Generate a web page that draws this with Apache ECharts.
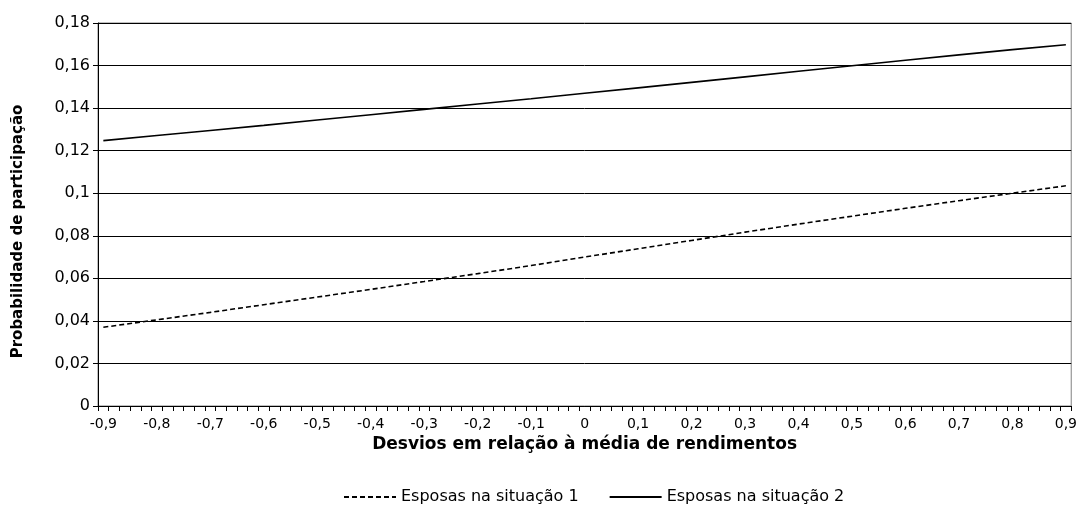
<!DOCTYPE html>
<html>
<head>
<meta charset="utf-8">
<script src="https://cdn.jsdelivr.net/npm/echarts@6/dist/echarts.min.js"></script>
<style>html,body{margin:0;padding:0;background:#fff}#c{width:1080px;height:520px}</style>
</head>
<body>
<div id="c"></div>
<script>
// Labelled x positions (every 0.1); each label interval holds 5 sub-categories (0.02 steps)
const xLabels = ['-0,9','-0,8','-0,7','-0,6','-0,5','-0,4','-0,3','-0,2','-0,1','0','0,1','0,2','0,3','0,4','0,5','0,6','0,7','0,8','0,9'];
const subSteps = 5;
const yTicks = ['0','0,02','0,04','0,06','0,08','0,1','0,12','0,14','0,16','0,18'];
const situacao1 = [0.0370,0.0405,0.0440,0.0476,0.0512,0.0548,0.0585,0.0622,0.0660,0.0700,0.0739,0.0778,0.0817,0.0855,0.0892,0.0929,0.0965,0.1000,0.1035];
const situacao2 = [0.1247,0.1271,0.1295,0.1319,0.1344,0.1369,0.1394,0.1419,0.1444,0.1470,0.1495,0.1521,0.1547,0.1573,0.1599,0.1625,0.1650,0.1675,0.1698];
const seriesNames = ['Esposas na situação 1','Esposas na situação 2'];

// Build full category list (labelled point followed by blank sub-steps)
const categories = [];
xLabels.forEach((l, i) => {
  categories.push(l);
  if (i < xLabels.length - 1) for (let k = 1; k < subSteps; k++) categories.push(l + '#' + k);
});
function spread(vals) {
  const out = new Array(categories.length).fill(null);
  vals.forEach((v, i) => { out[i * subSteps] = v; });
  return out;
}

const chart = echarts.init(document.getElementById('c'), null, {renderer: 'canvas'});
const font = 'DejaVu Sans, Liberation Sans, sans-serif';
chart.setOption({
  animation: false,
  textStyle: {fontFamily: font},
  grid: {left: 98, right: 7, top: 23, bottom: 114, show: true, borderColor: '#808080', borderWidth: 1, backgroundColor: 'transparent'},
  legend: {
    top: 489, left: 343, padding: 0, itemWidth: 52, itemHeight: 10, itemGap: 30,
    textStyle: {fontFamily: font, fontSize: 16, color: '#000'},
    itemStyle: {opacity: 0},
    data: seriesNames
  },
  xAxis: {
    type: 'category', data: categories, boundaryGap: true,
    name: 'Desvios em relação à média de rendimentos', nameLocation: 'middle', nameGap: 22,
    nameTextStyle: {fontFamily: font, fontSize: 17, fontWeight: 'bold', color: '#000'},
    axisLine: {lineStyle: {color: '#000', width: 1}},
    axisTick: {show: true, interval: 0, length: 5, lineStyle: {color: '#000'}},
    axisLabel: {interval: 0, margin: 11, fontSize: 14, color: '#000', fontFamily: font,
      formatter: v => v.indexOf('#') >= 0 ? '' : v},
    splitLine: {show: false}
  },
  yAxis: {
    type: 'value', min: 0, max: 0.18, interval: 0.02,
    name: 'Probabilidade de participação', nameLocation: 'middle', nameGap: 72,
    nameTextStyle: {fontFamily: font, fontSize: 15, fontWeight: 'bold', color: '#000', padding: [0, 34, 0, 0]},
    axisLine: {show: true, lineStyle: {color: '#000', width: 1}},
    axisTick: {show: true, length: 5, lineStyle: {color: '#000'}},
    axisLabel: {fontSize: 16, color: '#000', fontFamily: font, margin: 8,
      formatter: v => yTicks[Math.round(v / 0.02)]},
    splitLine: {show: true, lineStyle: {color: '#000', width: 1}}
  },
  series: [
    {name: seriesNames[0], type: 'line', data: spread(situacao1), connectNulls: true, symbol: 'none',
     lineStyle: {color: '#000', width: 1.6, type: [5, 3]}, itemStyle: {color: '#000'}},
    {name: seriesNames[1], type: 'line', data: spread(situacao2), connectNulls: true, symbol: 'none',
     lineStyle: {color: '#000', width: 1.6, type: 'solid'}, itemStyle: {color: '#000'}}
  ]
});
</script>
</body>
</html>
